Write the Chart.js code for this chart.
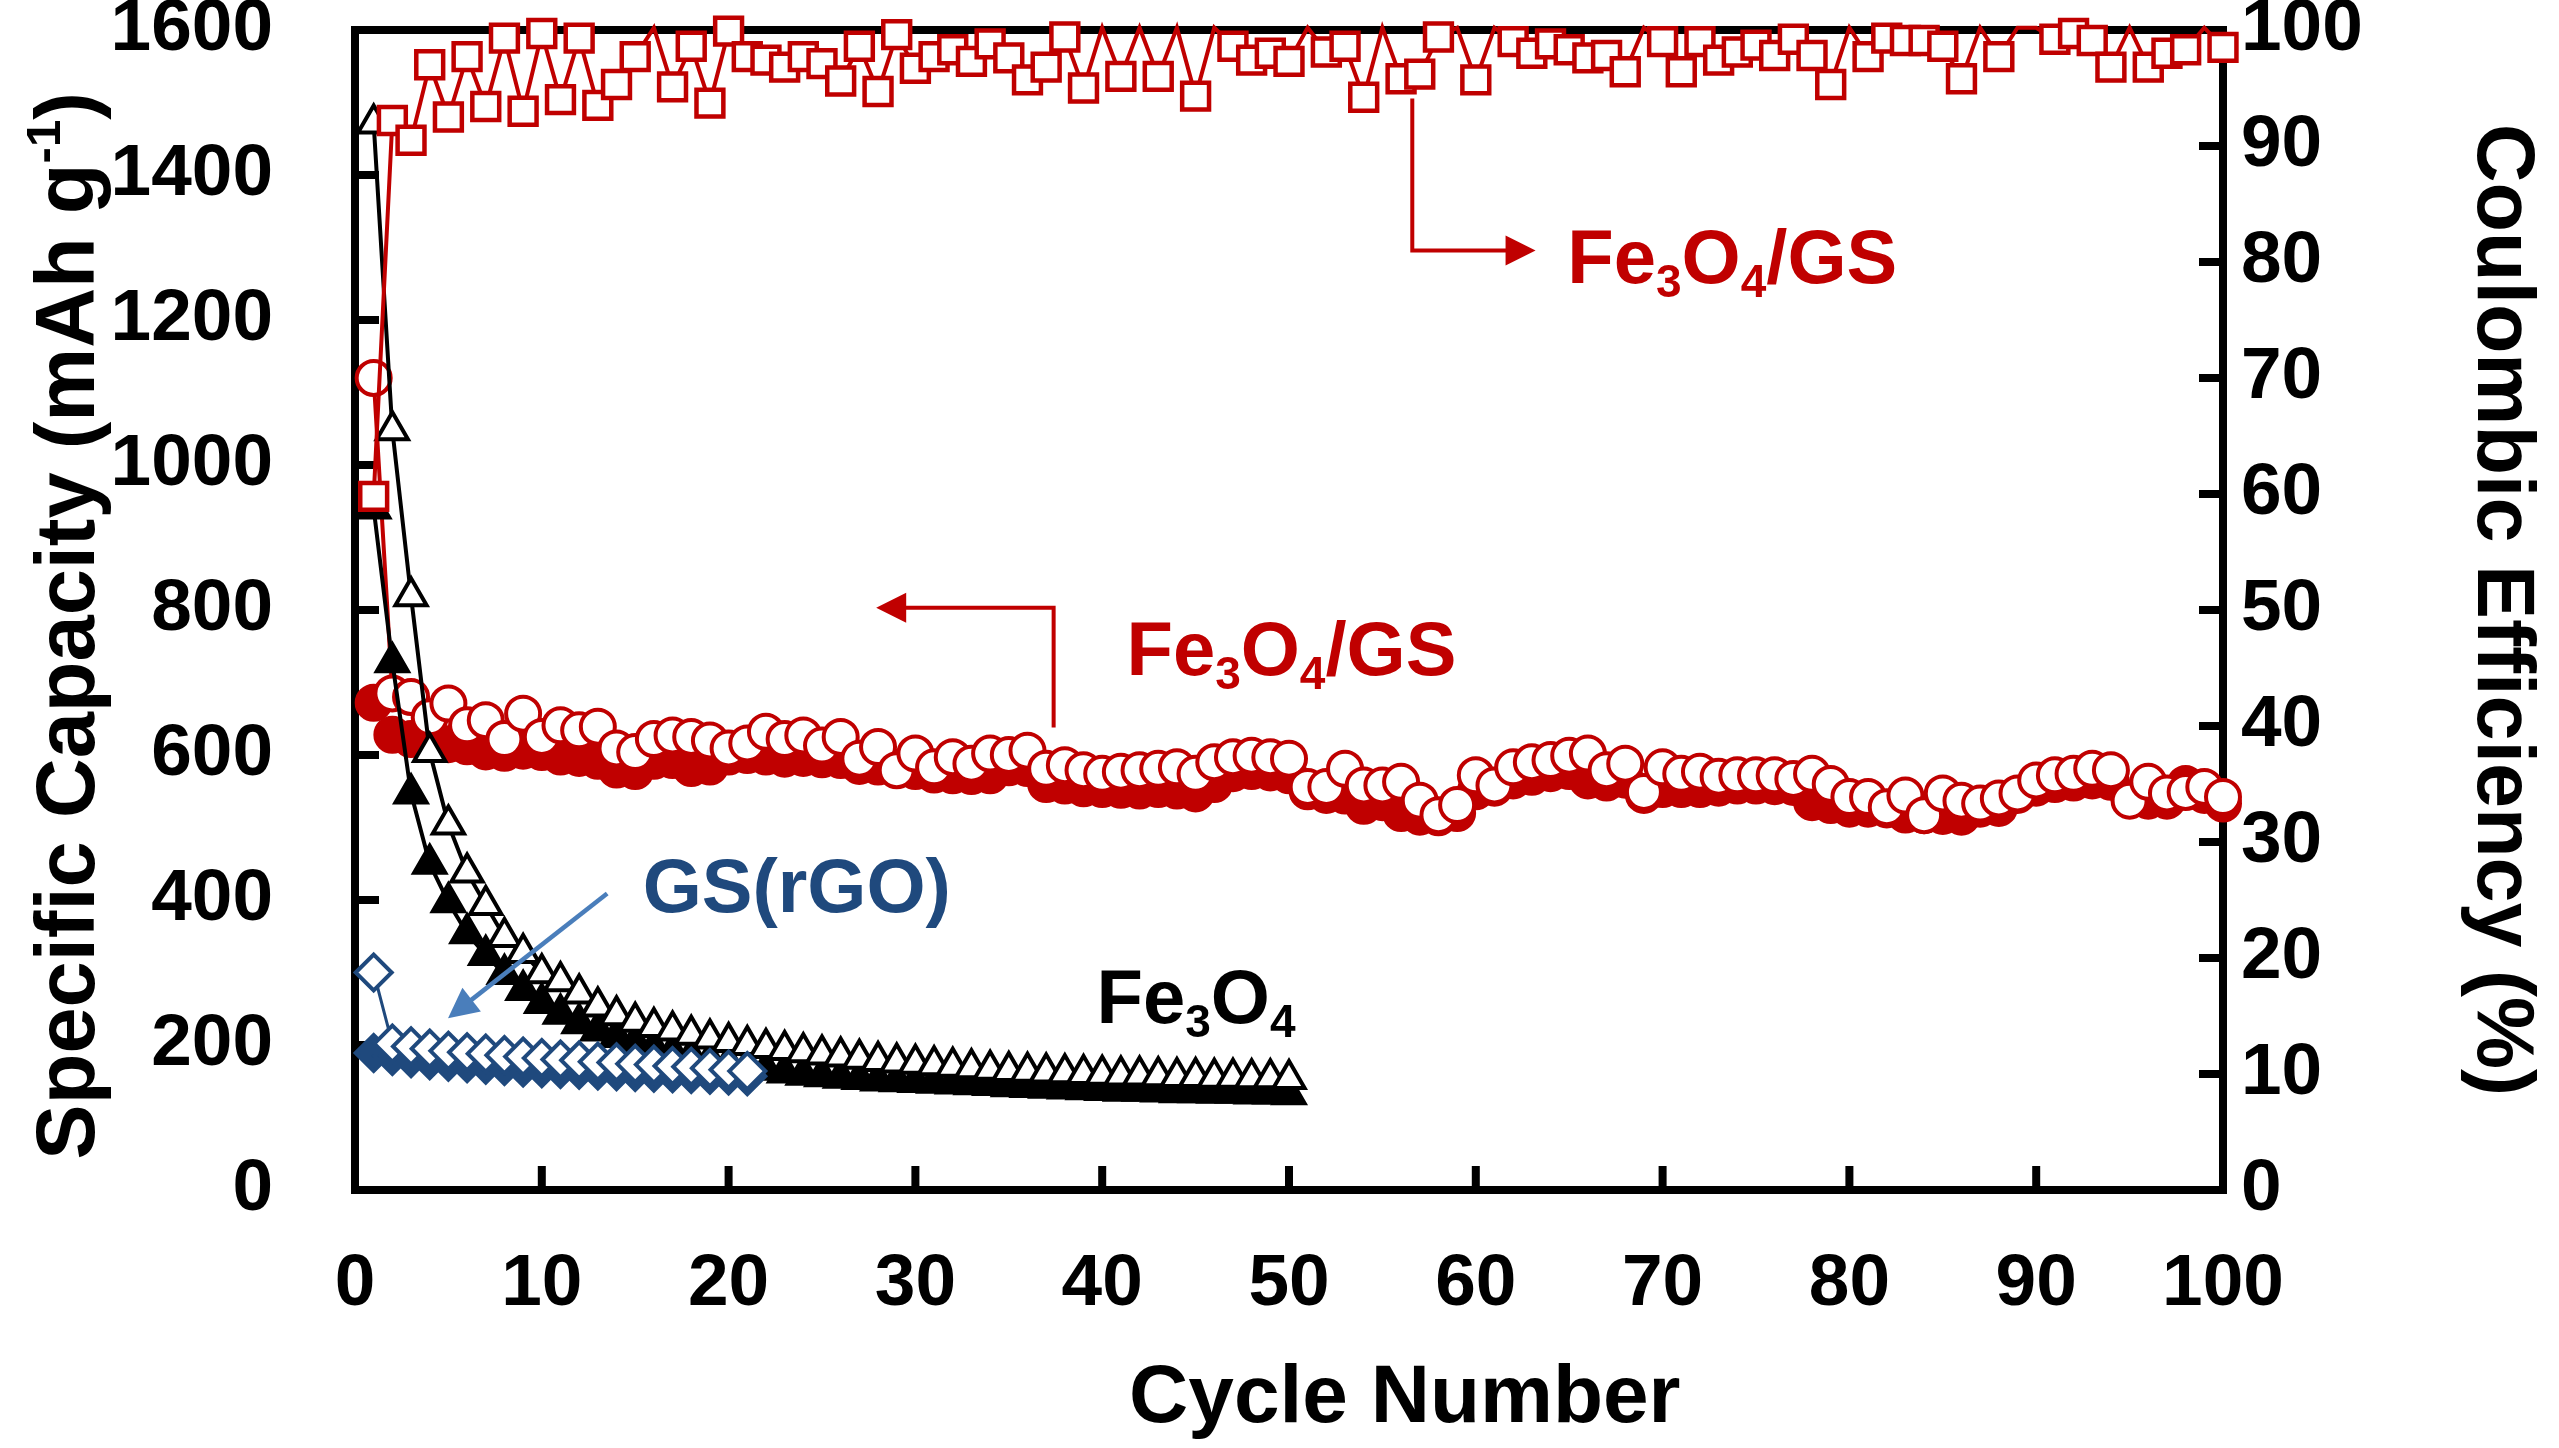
<!DOCTYPE html>
<html>
<head>
<meta charset="utf-8">
<script src="https://cdn.jsdelivr.net/npm/chart.js@4.4.1/dist/chart.umd.min.js"></script>
<style>
  html, body { margin: 0; padding: 0; background: #fff; }
  #wrap { width: 2559px; height: 1448px; }
</style>
</head>
<body>
<div id="wrap"><canvas id="chart" width="2559" height="1448"></canvas></div>
<script>
// Fe3O4/GS composite: discharge (open circles), charge (filled circles), mAh/g
let compositeDischarge = [
    1120, 685, 680, 652, 671, 641, 648, 622, 657, 625,
    641, 634, 639, 609, 604, 622, 627, 625, 620, 609,
    616, 632, 622, 627, 613, 625, 595, 611, 579, 602,
    583, 597, 588, 602, 600, 606, 581, 586, 579, 574,
    577, 579, 581, 583, 574, 590, 597, 599, 597, 595,
    556, 556, 581, 558, 558, 563, 537, 517, 531, 572,
    558, 583, 590, 593, 599, 602, 579, 588, 549, 583,
    574, 577, 570, 572, 572, 572, 567, 574, 560, 542,
    542, 528, 544, 517, 547, 537, 533, 540, 547, 565,
    572, 574, 581, 579, 537, 563, 547, 549, 556, 542
]
let compositeCharge = [
    672, 628, 622, 618, 615, 612, 605, 603, 606, 604,
    598, 596, 592, 580, 578, 592, 593, 582, 584, 598,
    600, 598, 595, 596, 594, 593, 585, 584, 582, 578,
    573, 572, 571, 572, 583, 582, 560, 558, 554, 553,
    552, 551, 553, 551, 547, 560, 575, 578, 576, 572,
    550, 545, 544, 530, 535, 520, 515, 514, 520, 550,
    555, 565, 570, 575, 578, 565, 562, 566, 545, 553,
    553, 553, 555, 558, 558, 557, 556, 535, 531, 526,
    526, 525, 518, 517, 516, 515, 526, 527, 545, 555,
    560, 562, 565, 563, 540, 537, 537, 560, 545, 533
]
// coulombic efficiency (%), values a hair over 100 run off the top of the frame
let compositeEfficiency = [
    59.8, 92.2, 90.5, 97.0, 92.5, 97.7, 93.4, 99.3, 93.0, 99.7,
    94.0, 99.3, 93.5, 95.3, 97.7, 100.2, 95.1, 98.6, 93.7, 99.9,
    97.7, 97.4, 96.8, 97.7, 97.1, 95.6, 98.6, 94.7, 99.6, 96.7,
    97.7, 98.3, 97.3, 98.8, 97.6, 95.7, 96.8, 99.4, 95.0, 100.2,
    96.0, 100.2, 96.0, 100.2, 94.3, 100.2, 98.6, 97.4, 98.0, 97.3,
    100.2, 98.1, 98.6, 94.2, 100.2, 95.8, 96.2, 99.4, 100.2, 95.7,
    100.2, 99.0, 98.0, 98.8, 98.3, 97.6, 97.8, 96.4, 100.2, 99.0,
    96.4, 99.0, 97.4, 98.1, 98.7, 97.8, 99.2, 97.8, 95.3, 100.2,
    97.7, 99.3, 99.1, 99.1, 98.6, 95.8, 100.2, 97.7, 100.2, 100.2,
    99.2, 99.7, 99.1, 96.8, 100.2, 96.8, 98.0, 98.3, 100.2, 98.5
]
// bare Fe3O4: discharge (open triangles), charge (filled triangles)
let fe3o4Discharge = [
    1471, 1048, 819, 604, 504, 438, 393, 349, 327, 299,
    288, 271, 253, 241, 232, 225, 220, 214, 209, 204,
    200, 196, 193, 190, 187, 184, 181, 178, 176, 174,
    172, 170, 168, 166, 164, 163, 162, 161, 160, 159,
    158, 158, 157, 156, 156, 155, 155, 154, 154, 153
]
let fe3o4Charge = [
    940, 728, 547, 450, 397, 354, 324, 298, 276, 258,
    243, 230, 220, 211, 203, 196, 190, 184, 179, 174,
    170, 166, 162, 159, 157, 155, 153, 151, 150, 149,
    148, 147, 146, 145, 143, 142, 141, 140, 139, 138,
    137, 137, 136, 135, 135, 134, 134, 133, 133, 132
]
// GS (rGO): discharge (open diamonds), charge (filled diamonds)
let rgoDischarge = [300, 202, 198, 195, 192, 190, 188, 186, 184, 182, 180, 179, 177, 176, 174, 173, 171, 170, 168, 166, 164]
let rgoCharge = [189, 185, 182, 179, 177, 175, 173, 171, 169, 168, 167, 166, 165, 164, 163, 162, 161, 160, 159, 158, 157]

const RED = '#c00000'
const NAVY = '#1f497d'
const SKY = '#4a7ebb'
const FONT = '"Liberation Sans", Arial, sans-serif'

// text labels placed in data units: [text, isSubscript]
const fe3o4gs = [['Fe'], ['3', 1], ['O'], ['4', 1], ['/GS']]
let notes = [
    {parts: fe3o4gs, cycle: 64.9, value: 78.2, axis: 'y1', color: RED},
    {parts: fe3o4gs, cycle: 41.3, value: 710, axis: 'y', color: RED},
    {parts: [['Fe'], ['3', 1], ['O'], ['4', 1]], cycle: 39.7, value: 230, axis: 'y', color: '#000'},
    {parts: [['GS(rGO)']], cycle: 15.4, value: 383, axis: 'y', color: NAVY}
]
let arrows = [
    {path: [[56.6, 94.1], [56.6, 81.0], [63.2, 81.0]], axis: 'y1', color: RED, width: 4},
    {path: [[37.4, 638], [37.4, 803], [27.9, 803]], axis: 'y', color: RED, width: 4},
    {path: [[13.5, 409], [4.98, 237]], axis: 'y', color: SKY, width: 4.5}
]
let xTitle = 'Cycle Number'
let yTitle = ['Specific Capacity (mAh g', '-1', ')']

function byCycle(values) {
    return values.map((v, i) => ({x: i + 1, y: v}))
}

function series(values, axis, color, style, radius, filled, lineWidth) {
    return {
        data: byCycle(values),
        yAxisID: axis,
        borderColor: color,
        borderWidth: lineWidth,
        pointStyle: style,
        pointRadius: radius,
        pointBorderWidth: 4,
        pointBorderColor: color,
        pointBackgroundColor: filled ? color : '#fff',
        tension: 0,
        clip: false
    }
}

let framePlugin = {
    id: 'frame',
    beforeDatasetsDraw(chart) {
        let {ctx, chartArea: a, scales} = chart
        ctx.save()
        ctx.strokeStyle = '#000'
        ctx.lineWidth = 8
        ctx.strokeRect(a.left, a.top, a.right - a.left, a.bottom - a.top)
        ctx.beginPath()
        scales.x.ticks.forEach(t => {
            let px = scales.x.getPixelForValue(t.value)
            ctx.moveTo(px, a.bottom)
            ctx.lineTo(px, a.bottom - 24)
        })
        scales.y.ticks.forEach(t => {
            let py = scales.y.getPixelForValue(t.value)
            ctx.moveTo(a.left, py)
            ctx.lineTo(a.left + 24, py)
        })
        scales.y1.ticks.forEach(t => {
            let py = scales.y1.getPixelForValue(t.value)
            ctx.moveTo(a.right, py)
            ctx.lineTo(a.right - 24, py)
        })
        ctx.stroke()
        ctx.restore()
    },
    afterDraw(chart) {
        let {ctx, scales} = chart
        ctx.save()
        ctx.fillStyle = '#000'

        // x title sits right of the plot centre in the original
        ctx.font = 'bold 82px ' + FONT
        ctx.textAlign = 'center'
        ctx.textBaseline = 'middle'
        ctx.fillText(xTitle, scales.x.getPixelForValue(56.2), 1399)

        // left title with superscript
        ctx.translate(94, scales.y.getPixelForValue(778))
        ctx.rotate(-Math.PI / 2)
        let big = 'bold 83px ' + FONT, small = 'bold 49px ' + FONT
        ctx.font = big
        let w1 = ctx.measureText(yTitle[0]).width
        let w3 = ctx.measureText(yTitle[2]).width
        ctx.font = small
        let w2 = ctx.measureText(yTitle[1]).width
        let x0 = -(w1 + w2 + w3) / 2
        ctx.textBaseline = 'alphabetic'
        ctx.textAlign = 'left'
        ctx.font = big
        ctx.fillText(yTitle[0], x0, 0)
        ctx.fillText(yTitle[2], x0 + w1 + w2, 0)
        ctx.font = small
        ctx.fillText(yTitle[1], x0 + w1, -34)
        ctx.setTransform(1, 0, 0, 1, 0, 0)

        // arrows
        arrows.forEach(ar => {
            let pts = ar.path.map(p => [scales.x.getPixelForValue(p[0]), scales[ar.axis].getPixelForValue(p[1])])
            let [tx, ty] = pts[pts.length - 1]
            let [fx, fy] = pts[pts.length - 2]
            let ang = Math.atan2(ty - fy, tx - fx)
            let head = 30
            ctx.strokeStyle = ar.color
            ctx.fillStyle = ar.color
            ctx.lineWidth = ar.width
            ctx.beginPath()
            ctx.moveTo(pts[0][0], pts[0][1])
            for (let i = 1; i < pts.length - 1; i++) ctx.lineTo(pts[i][0], pts[i][1])
            ctx.lineTo(tx - Math.cos(ang) * head * 0.8, ty - Math.sin(ang) * head * 0.8)
            ctx.stroke()
            ctx.beginPath()
            ctx.moveTo(tx, ty)
            ctx.lineTo(tx - Math.cos(ang) * head + Math.sin(ang) * 15, ty - Math.sin(ang) * head - Math.cos(ang) * 15)
            ctx.lineTo(tx - Math.cos(ang) * head - Math.sin(ang) * 15, ty - Math.sin(ang) * head + Math.cos(ang) * 15)
            ctx.closePath()
            ctx.fill()
        })

        // labels with subscripts
        ctx.textBaseline = 'alphabetic'
        ctx.textAlign = 'left'
        notes.forEach(n => {
            let x = scales.x.getPixelForValue(n.cycle)
            let y = scales[n.axis].getPixelForValue(n.value)
            ctx.fillStyle = n.color
            n.parts.forEach(p => {
                ctx.font = p[1] ? 'bold 46px ' + FONT : 'bold 76px ' + FONT
                ctx.fillText(p[0], x, p[1] ? y + 14 : y)
                x += ctx.measureText(p[0]).width
            })
        })
        ctx.restore()
    }
}

Chart.defaults.font.family = FONT
Chart.defaults.font.weight = 'bold'
Chart.defaults.color = '#000'

let tickFont = {size: 73, weight: 'bold'}
let plain = v => String(v)
let noPadY = s => { s.paddingTop = 0; s.paddingBottom = 0 }

let chart = new Chart(document.querySelector('#chart'), {
    type: 'line',
    data: {
        datasets: [
            Object.assign(series(compositeEfficiency, 'y1', RED, 'rect', 19, false, 4), {
                pointRadius: c => (c.raw && c.raw.y > 100 ? 0 : 19),
                pointBorderWidth: 4.5
            }),
            series(rgoDischarge, 'y', NAVY, 'rectRot', 18, false, 3),
            series(rgoCharge, 'y', NAVY, 'rectRot', 18, true, 3),
            series(fe3o4Discharge, 'y', '#000', 'triangle', 18, false, 4),
            series(fe3o4Charge, 'y', '#000', 'triangle', 18, true, 4),
            series(compositeDischarge, 'y', RED, 'circle', 17, false, 4),
            series(compositeCharge, 'y', RED, 'circle', 17, true, 4)
        ]
    },
    options: {
        responsive: false,
        animation: false,
        events: [],
        layout: {padding: {top: 30, left: 0, right: 0, bottom: 0}},
        plugins: {legend: {display: false}, tooltip: {enabled: false}},
        scales: {
            x: {
                type: 'linear', min: 0, max: 100,
                ticks: {stepSize: 10, font: tickFont, padding: 43, callback: plain, maxRotation: 0},
                grid: {display: false}, border: {display: false},
                afterFit(s) { s.height = 258; s.paddingLeft = 0; s.paddingRight = 0 }
            },
            y: {
                position: 'left', min: 0, max: 1600,
                ticks: {stepSize: 200, font: tickFont, padding: 74, callback: plain},
                grid: {display: false}, border: {display: false},
                afterFit(s) { s.width = 355; noPadY(s) }
            },
            y1: {
                position: 'right', min: 0, max: 100,
                ticks: {stepSize: 10, font: tickFont, padding: 10, callback: plain},
                grid: {display: false}, border: {display: false},
                title: {display: true, text: 'Coulombic Efficiency (%)', font: {size: 81, weight: 'bold'}, padding: {top: 10, bottom: 0}},
                afterFit(s) { s.width = 336; noPadY(s) }
            }
        }
    },
    plugins: [framePlugin]
})
</script>
</body>
</html>
